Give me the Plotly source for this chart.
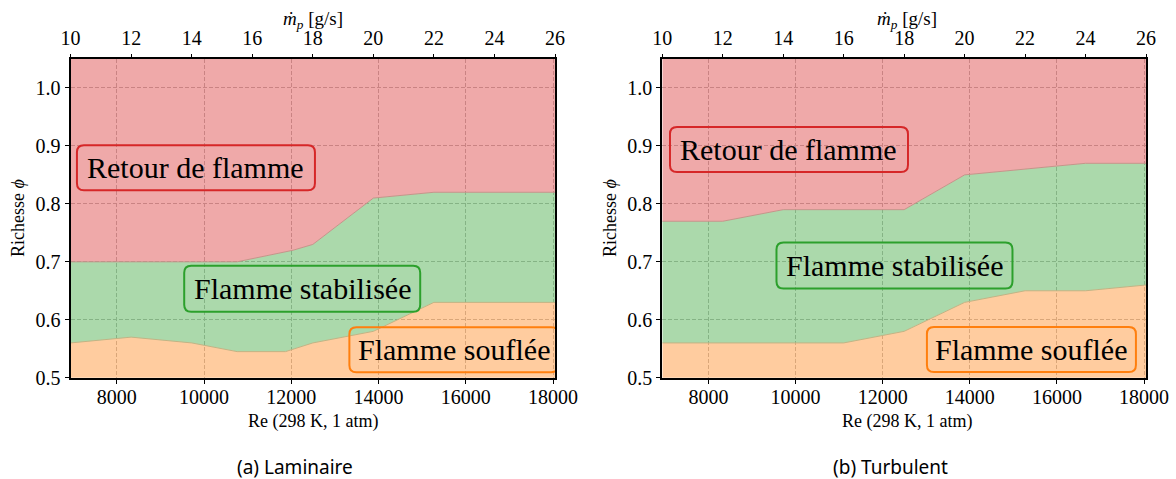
import plotly.graph_objects as go

# ---------------- data ----------------
K_RE = 694.0                      # Re per g/s (298 K, 1 atm)
mdot_range = [10, 26]
phi_top = 1.05

# (a) Laminaire
lam_mdot_low = [10, 12, 14, 15.5, 17.1, 18, 20, 22, 26]
lam_blowoff = [0.56, 0.57, 0.56, 0.545, 0.545, 0.56, 0.58, 0.63, 0.63]
lam_mdot_high = [10, 15.5, 17.35, 18, 20, 22, 26]
lam_flashback = [0.70, 0.70, 0.72, 0.73, 0.81, 0.82, 0.82]

# (b) Turbulent
turb_mdot = [10, 12, 14, 16, 18, 20, 22, 24, 26]
turb_blowoff = [0.56, 0.56, 0.56, 0.56, 0.58, 0.63, 0.65, 0.65, 0.66]
turb_flashback = [0.77, 0.77, 0.79, 0.79, 0.79, 0.85, 0.86, 0.87, 0.87]

re_ticks = [8000, 10000, 12000, 14000, 16000, 18000]
phi_ticks = [0.5, 0.6, 0.7, 0.8, 0.9, 1.0]

region_labels = ["Retour de flamme", "Flamme stabilisée", "Flamme souflée"]
captions = ["(a) Laminaire", "(b) Turbulent"]

# ---------------- style ----------------
W, H = 1176, 479
SERIF = "Liberation Serif, Times New Roman, serif"
SANS = "Noto Sans, Open Sans, sans-serif"
RED, GREEN, ORANGE = "#d62728", "#2ca02c", "#ff7f0e"
FILL_RED = "rgba(214,39,40,0.4)"
FILL_GREEN = "rgba(44,160,44,0.4)"
FILL_ORANGE = "rgba(255,127,14,0.4)"
EDGE_HIGH = "#c4958a"
EDGE_LOW = "#c2b384"
GRID = "#c0c0c0"
BOX_SIZES = [(238, 45), (236, 46), (209, 45)]   # label box sizes in px
BOX_R = 7


def to_re(m):
    return [K_RE * v for v in m]


def rounded_box(w, h, r):
    a, b = w / 2, h / 2
    return (f"M {-a + r},{-b} L {a - r},{-b} Q {a},{-b} {a},{-b + r} "
            f"L {a},{b - r} Q {a},{b} {a - r},{b} L {-a + r},{b} Q {-a},{b} {-a},{b - r} "
            f"L {-a},{-b + r} Q {-a},{-b} {-a + r},{-b} Z")


fig = go.Figure()

panels = [
    dict(xb="x", xt="x2", y="y",
         low=(lam_mdot_low, lam_blowoff), high=(lam_mdot_high, lam_flashback),
         dom=[70.6 / W, 555 / W],
         labels=[(14.14, 0.8625), (17.65, 0.6533), (22.66, 0.5484)],
         cx_title=312.7, cx_cap=295, x_ytitle=18),
    dict(xb="x3", xt="x4", y="y2",
         low=(turb_mdot, turb_blowoff), high=(turb_mdot, turb_flashback),
         dom=[662.3 / W, 1146 / W],
         labels=[(14.19, 0.8938), (17.68, 0.6936), (22.21, 0.5488)],
         cx_title=907, cx_cap=890, x_ytitle=610),
]

ydom = [1 - 377.7 / H, 1 - 59 / H]
annotations = []
shapes = []
tickfont = dict(family=SERIF, size=20, color="black")

for i, p in enumerate(panels):
    xl, yl = p["low"]
    xh, yh = p["high"]
    fig.add_trace(go.Scatter(x=to_re(xl), y=yl, xaxis=p["xb"], yaxis=p["y"], mode="lines",
                             line=dict(color=EDGE_LOW, width=1), fill="tozeroy",
                             fillcolor=FILL_ORANGE, hoverinfo="skip", showlegend=False))
    fig.add_trace(go.Scatter(x=to_re(xh), y=yh, xaxis=p["xb"], yaxis=p["y"], mode="lines",
                             line=dict(color=EDGE_HIGH, width=1), fill="tonexty",
                             fillcolor=FILL_GREEN, hoverinfo="skip", showlegend=False))
    fig.add_trace(go.Scatter(x=to_re(mdot_range), y=[phi_top, phi_top], xaxis=p["xb"],
                             yaxis=p["y"], mode="lines", line=dict(width=0), fill="tonexty",
                             fillcolor=FILL_RED, hoverinfo="skip", showlegend=False))
    # invisible trace so that the top (mass-flow) axis is drawn
    fig.add_trace(go.Scatter(x=mdot_range, y=[phi_top, phi_top], xaxis=p["xt"], yaxis=p["y"],
                             mode="lines", line=dict(width=0, color="rgba(0,0,0,0)"),
                             hoverinfo="skip", showlegend=False))

    sfx_b = "" if p["xb"] == "x" else p["xb"][1:]
    sfx_t = p["xt"][1:]
    sfx_y = "" if p["y"] == "y" else p["y"][1:]
    fig.layout["xaxis" + sfx_b] = dict(
        domain=p["dom"], anchor=p["y"], range=to_re(mdot_range), automargin=False,
        tickvals=re_ticks, tickformat="d", ticks="outside", ticklen=4, tickwidth=1,
        tickcolor="black", showline=True, linewidth=2, linecolor="black", mirror=True,
        showgrid=True, gridcolor=GRID, griddash="4px,2px", gridwidth=1,
        zeroline=False, tickfont=tickfont, fixedrange=True, ticklabelstandoff=-4)
    fig.layout["xaxis" + sfx_t] = dict(
        domain=p["dom"], anchor=p["y"], overlaying=p["xb"], side="top", automargin=False,
        range=mdot_range, tick0=10, dtick=2, ticks="outside", ticklen=4, tickwidth=1,
        tickcolor="black", showline=False, showgrid=False, zeroline=False,
        tickfont=tickfont, fixedrange=True, ticklabelstandoff=1)
    fig.layout["yaxis" + sfx_y] = dict(
        domain=ydom, anchor=p["xb"], range=[0.5, phi_top], tickvals=phi_ticks,
        automargin=False,
        tickformat=".1f", ticks="outside", ticklen=4, tickwidth=1, tickcolor="black",
        showline=True, linewidth=2, linecolor="black", mirror=True,
        showgrid=True, gridcolor=GRID, griddash="4px,2px", gridwidth=1,
        zeroline=False, tickfont=tickfont, fixedrange=True)

    for (lx, ly), txt, col, (bw, bh) in zip(p["labels"], region_labels,
                                            [RED, GREEN, ORANGE], BOX_SIZES):
        annotations.append(dict(
            x=lx, y=ly, xref=p["xt"], yref=p["y"], text=txt, showarrow=False,
            font=dict(family=SERIF, size=30, color="black"),
            xanchor="center", yanchor="middle"))
        shapes.append(dict(
            type="path", xref=p["xt"], yref=p["y"], xsizemode="pixel", ysizemode="pixel",
            xanchor=lx, yanchor=ly, path=rounded_box(bw, bh, BOX_R),
            line=dict(color=col, width=2), fillcolor="rgba(0,0,0,0)", layer="above"))

    # axis titles
    annotations.append(dict(x=p["cx_title"] / W, y=1 - 20 / H, xref="paper", yref="paper",
                            text="<i>ṁ</i><sub><i>p</i></sub> [g/s]", showarrow=False,
                            font=dict(family=SERIF, size=19, color="black"),
                            xanchor="center", yanchor="middle"))
    annotations.append(dict(x=p["cx_title"] / W, y=1 - 421.5 / H, xref="paper", yref="paper",
                            text="Re (298 K, 1 atm)", showarrow=False,
                            font=dict(family=SERIF, size=18, color="black"),
                            xanchor="center", yanchor="middle"))
    annotations.append(dict(x=p["x_ytitle"] / W, y=1 - 218 / H, xref="paper", yref="paper",
                            text="Richesse <i>ϕ</i>", showarrow=False, textangle=-90,
                            font=dict(family=SERIF, size=18, color="black"),
                            xanchor="center", yanchor="middle"))
    annotations.append(dict(x=p["cx_cap"] / W, y=1 - 466.5 / H, xref="paper", yref="paper",
                            text=captions[i], showarrow=False,
                            font=dict(family=SANS, size=19, color="black"),
                            xanchor="center", yanchor="middle"))

fig.update_layout(
    width=W, height=H, margin=dict(l=0, r=0, t=0, b=0, autoexpand=False),
    paper_bgcolor="white", plot_bgcolor="white",
    annotations=annotations, shapes=shapes, showlegend=False)

fig.write_html("out.html", config={"displayModeBar": False},
               post_script="document.body.style.margin='0px';"
                           "document.body.style.overflow='hidden';")
